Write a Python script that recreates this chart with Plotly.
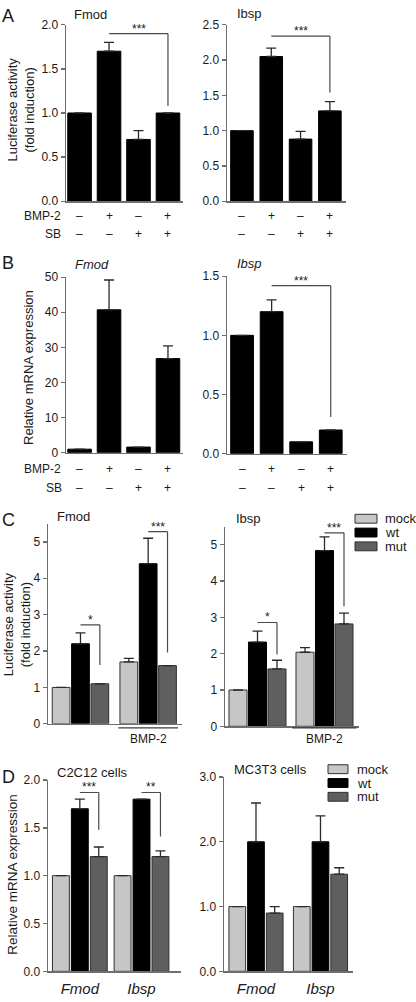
import plotly.graph_objects as go

W, H = 416, 1002
FONT = "Liberation Sans, Arial, Helvetica, sans-serif"
INK = "#1a1a1a"
AXIS = "#6e6e6e"

# ---------------- data ----------------
treatments = [0, 1, 2, 3]
bmp2_signs = ["–", "+", "–", "+"]
sb_signs = ["–", "–", "+", "+"]

a_fmod = [1.0, 1.7, 0.7, 1.0]
a_fmod_err = [0, 0.1, 0.1, 0]
a_ibsp = [1.0, 2.05, 0.88, 1.28]
a_ibsp_err = [0, 0.12, 0.11, 0.13]

b_fmod = [1.0, 40.7, 1.6, 26.8]
b_fmod_err = [0, 8.5, 0, 3.6]
b_ibsp = [1.0, 1.2, 0.1, 0.2]
b_ibsp_err = [0, 0.1, 0, 0]

groups = [0, 1]
series = ["mock", "wt", "mut"]
c_fmod = {"mock": [1.0, 1.7], "wt": [2.2, 4.4], "mut": [1.1, 1.6]}
c_fmod_err = {"mock": [0, 0.1], "wt": [0.3, 0.7], "mut": [0, 0]}
c_ibsp = {"mock": [1.0, 2.04], "wt": [2.32, 4.84], "mut": [1.58, 2.82]}
c_ibsp_err = {"mock": [0, 0.13], "wt": [0.3, 0.38], "mut": [0.24, 0.3]}

genes = ["Fmod", "Ibsp"]
d_c2c12 = {"mock": [1.0, 1.0], "wt": [1.7, 1.8], "mut": [1.2, 1.2]}
d_c2c12_err = {"mock": [0, 0], "wt": [0.1, 0], "mut": [0.1, 0.06]}
d_mc3t3 = {"mock": [1.0, 1.0], "wt": [2.0, 2.0], "mut": [0.9, 1.5]}
d_mc3t3_err = {"mock": [0, 0], "wt": [0.6, 0.4], "mut": [0.1, 0.1]}

# significance: (from position, to position, bracket level, drop end, label)
sig_a_fmod = [(1, 3, 1.9, 1.08, "***")]
sig_a_ibsp = [(1, 3, 2.34, 1.54, "***")]
sig_b_ibsp = [(1, 3, 1.42, 0.31, "***")]
# grouped: ((group, series_index), (group, series_index), level, end, label)
sig_c_fmod = [((0, 1), (0, 2), 2.72, 1.62, "*"), ((1, 1), (1, 2), 5.28, 1.96, "***")]
sig_c_ibsp = [((0, 1), (0, 2), 2.86, 1.98, "*"), ((1, 1), (1, 2), 5.33, 3.31, "***")]
sig_d_c2c12 = [((0, 1), (0, 2), 1.87, 1.48, "***"), ((1, 1), (1, 2), 1.87, 1.41, "**")]

colors = {"mock": "#c6c6c6", "wt": "#000000", "mut": "#5f5f5f"}
outline = {"mock": "#303030", "wt": "#000000", "mut": "#303030"}

# ---------------- layout helpers ----------------
def xd(x0, x1):
    return [x0 / W, x1 / W]

def yd(ytop, ybot):
    return [1 - ybot / H, 1 - ytop / H]

def px(x):
    return x / W

def py(y):
    return 1 - y / H

fig = go.Figure()
annotations = []
shapes = []

def err_dict(err):
    return dict(type="data", symmetric=False, array=err, arrayminus=[0] * len(err),
                color="#2a2a2a", thickness=1.3, width=5)

def set_axes(i, xdom, ydom, xrange, yrange, tickvals, tickformat, xticks=None):
    xa = "xaxis" if i == 1 else f"xaxis{i}"
    ya = "yaxis" if i == 1 else f"yaxis{i}"
    xax = dict(domain=xdom, range=xrange, anchor="y" if i == 1 else f"y{i}",
               showline=True, linecolor=AXIS, linewidth=1.5, showgrid=False,
               zeroline=False, ticks="", showticklabels=False, fixedrange=True)
    if xticks is not None:
        xax.update(showticklabels=True, tickvals=xticks[0], ticktext=xticks[1],
                   tickfont=dict(family=FONT, size=15, color=INK), ticklabelstandoff=3)
    yax = dict(domain=ydom, range=yrange, anchor="x" if i == 1 else f"x{i}",
               showline=True, linecolor=AXIS, linewidth=1.5, showgrid=False,
               zeroline=False, ticks="outside", ticklen=4, tickwidth=1.3,
               tickcolor=AXIS, tickvals=tickvals, tickformat=tickformat,
               tickfont=dict(family=FONT, size=12, color=INK), fixedrange=True)
    fig.update_layout(**{xa: xax, ya: yax})

def refs(i):
    return ("x" if i == 1 else f"x{i}", "y" if i == 1 else f"y{i}")

def simple_bars(i, vals, err, width):
    xr, yr = refs(i)
    fig.add_trace(go.Bar(x=treatments, y=vals, width=width, marker_color="#000000",
                         marker_line=dict(color="#000000", width=1), error_y=err_dict(err),
                         xaxis=xr, yaxis=yr, showlegend=False))

def grouped_bars(i, data, errs, slot, width):
    xr, yr = refs(i)
    for k, s in enumerate(series):
        fig.add_trace(go.Bar(x=groups, y=data[s], width=width, offset=(k - 1) * slot - width / 2,
                             marker_color=colors[s], marker_line=dict(color=outline[s], width=1),
                             error_y=err_dict(errs[s]), xaxis=xr, yaxis=yr, name=s,
                             showlegend=False))

def bracket(i, xa, xb, level, end, label, size=12):
    xr, yr = refs(i)
    line = dict(color="#4a4a4a", width=1.2)
    shapes.append(dict(type="line", xref=xr, yref=yr, x0=xa, x1=xb, y0=level, y1=level, line=line))
    shapes.append(dict(type="line", xref=xr, yref=yr, x0=xb, x1=xb, y0=level, y1=end, line=line))
    annotations.append(dict(xref=xr, yref=yr, x=(xa + xb) / 2, y=level, text=label,
                            showarrow=False, yanchor="bottom", yshift=-4,
                            font=dict(family=FONT, size=size, color=INK)))

def text(x, y, t, size=12, xanchor="center", angle=0, italic=False):
    annotations.append(dict(xref="paper", yref="paper", x=px(x), y=py(y), text=t,
                            showarrow=False, xanchor=xanchor, yanchor="middle",
                            textangle=angle,
                            font=dict(family=FONT, size=size, color=INK,
                                      style="italic" if italic else "normal")))

def sign_rows(i, rows_y):
    xr, _ = refs(i)
    for signs, yy in zip([bmp2_signs, sb_signs], rows_y):
        for xi, s in zip(treatments, signs):
            annotations.append(dict(xref=xr, yref="paper", x=xi, y=py(yy), text=s,
                                    showarrow=False, yanchor="middle",
                                    font=dict(family=FONT, size=12, color=INK)))

# ---------------- Panel A ----------------
set_axes(1, xd(66, 183), yd(18, 197), [-0.46, 3.51], [0, 2.0], [0, 0.5, 1.0, 1.5, 2.0], ".1f")
simple_bars(1, a_fmod, a_fmod_err, 0.8)
for s in sig_a_fmod:
    bracket(1, *s)
set_axes(2, xd(227, 346), yd(18, 197), [-0.51, 3.55], [0, 2.5], [0, 0.5, 1.0, 1.5, 2.0, 2.5], ".1f")
simple_bars(2, a_ibsp, a_ibsp_err, 0.77)
for s in sig_a_ibsp:
    bracket(2, *s)
sign_rows(1, [212, 230])
sign_rows(2, [212, 230])
text(63, 212, "BMP-2", xanchor="right")
text(63, 230, "SB", xanchor="right")
text(0, 9, "A", size=18, xanchor="left")
text(90, 8, "Fmod", size=13)
text(249, 7, "Ibsp", size=13)
text(21, 104, "Luciferase activity<br>(fold induction)", size=13, angle=-90)

# ---------------- Panel B ----------------
set_axes(3, xd(66, 183), yd(274, 452), [-0.46, 3.51], [0, 50], [0, 10, 20, 30, 40, 50], "d")
simple_bars(3, b_fmod, b_fmod_err, 0.8)
set_axes(4, xd(227, 347), yd(273, 453), [-0.51, 3.55], [0, 1.5], [0, 0.5, 1.0, 1.5], ".1f")
simple_bars(4, b_ibsp, b_ibsp_err, 0.77)
for s in sig_b_ibsp:
    bracket(4, *s)
sign_rows(3, [469, 488])
sign_rows(4, [469, 488])
text(63, 469, "BMP-2", xanchor="right")
text(64, 488, "SB", xanchor="right")
text(0, 260, "B", size=18, xanchor="left")
text(92, 261, "Fmod", size=13, italic=True)
text(249, 260, "Ibsp", size=13, italic=True)
text(29, 366, "Relative mRNA expression", size=13, angle=-90)

# ---------------- Panel C ----------------
set_axes(5, xd(48, 182), yd(524, 727), [-0.48, 1.5], [0, 5.5], [0, 1, 2, 3, 4, 5], "d")
grouped_bars(5, c_fmod, c_fmod_err, 0.286, 0.262)
set_axes(6, xd(225, 359), yd(527, 729.5), [-0.485, 1.515], [0, 5.5], [0, 1, 2, 3, 4, 5], "d")
grouped_bars(6, c_ibsp, c_ibsp_err, 0.291, 0.269)

def gpos(g, k, slot):
    return groups[g] + (k - 1) * slot

for (a, b, lv, en, lb) in sig_c_fmod:
    bracket(5, gpos(*a, 0.286), gpos(*b, 0.286), lv, en, lb)
for (a, b, lv, en, lb) in sig_c_ibsp:
    bracket(6, gpos(*a, 0.291), gpos(*b, 0.291), lv, en, lb)

for i, half in [(5, 0.44), (6, 0.48)]:
    xr, _ = refs(i)
    shapes.append(dict(type="line", xref=xr, yref="paper", x0=groups[1] - half, x1=groups[1] + half,
                       y0=py(731), y1=py(731), line=dict(color="#3a3a3a", width=1.2)))
    annotations.append(dict(xref=xr, yref="paper", x=groups[1], y=py(742), text="BMP-2",
                            showarrow=False, yanchor="middle",
                            font=dict(family=FONT, size=12, color=INK)))
text(0, 520, "C", size=18, xanchor="left")
text(73, 517, "Fmod", size=13)
text(248, 519, "Ibsp", size=13)
text(17, 626, "Luciferase activity<br>(fold induction)", size=13, angle=-90)

def legend(xs, ys, xt):
    for s, yy in zip(series, ys):
        shapes.append(dict(type="rect", xref="paper", yref="paper", x0=px(xs[0]), x1=px(xs[1]),
                           y0=py(yy + 4.5), y1=py(yy - 4.5), fillcolor=colors[s],
                           line=dict(color=outline[s], width=1)))
        text(xt, yy, s, size=13, xanchor="left")

legend((355, 377), [519, 533, 547], 383)

# ---------------- Panel D ----------------
set_axes(7, xd(48, 181), yd(784, 978), [-0.516, 1.64], [0, 2.0], [0, 0.5, 1.0, 1.5, 2.0], ".1f",
         xticks=(groups, [f"<i>{g}</i>" for g in genes]))
grouped_bars(7, d_c2c12, d_c2c12_err, 0.307, 0.274)
for (a, b, lv, en, lb) in sig_d_c2c12:
    bracket(7, gpos(*a, 0.307), gpos(*b, 0.307), lv, en, lb)
set_axes(8, xd(224, 353), yd(781, 978), [-0.496, 1.504], [0, 3.0], [0, 1.0, 2.0, 3.0], ".1f",
         xticks=(groups, [f"<i>{g}</i>" for g in genes]))
grouped_bars(8, d_mc3t3, d_mc3t3_err, 0.29, 0.259)
text(0, 781, "D", size=18, xanchor="left")
text(55, 776, "C2C12 cells", size=13, xanchor="left")
text(232, 773, "MC3T3 cells", size=13, xanchor="left")
text(13, 880, "Relative mRNA expression", size=13.5, angle=-90)
legend((328, 348), [773, 787, 801], 355)

fig.update_layout(width=W, height=H, margin=dict(l=0, r=0, t=0, b=0),
                  paper_bgcolor="white", plot_bgcolor="white", barmode="overlay",
                  showlegend=False, annotations=annotations, shapes=shapes,
                  font=dict(family=FONT, color=INK))

fig.write_html("out.html", config={"displayModeBar": False, "staticPlot": True},
               post_script="document.body.style.margin='0';document.body.style.overflow='hidden';")
